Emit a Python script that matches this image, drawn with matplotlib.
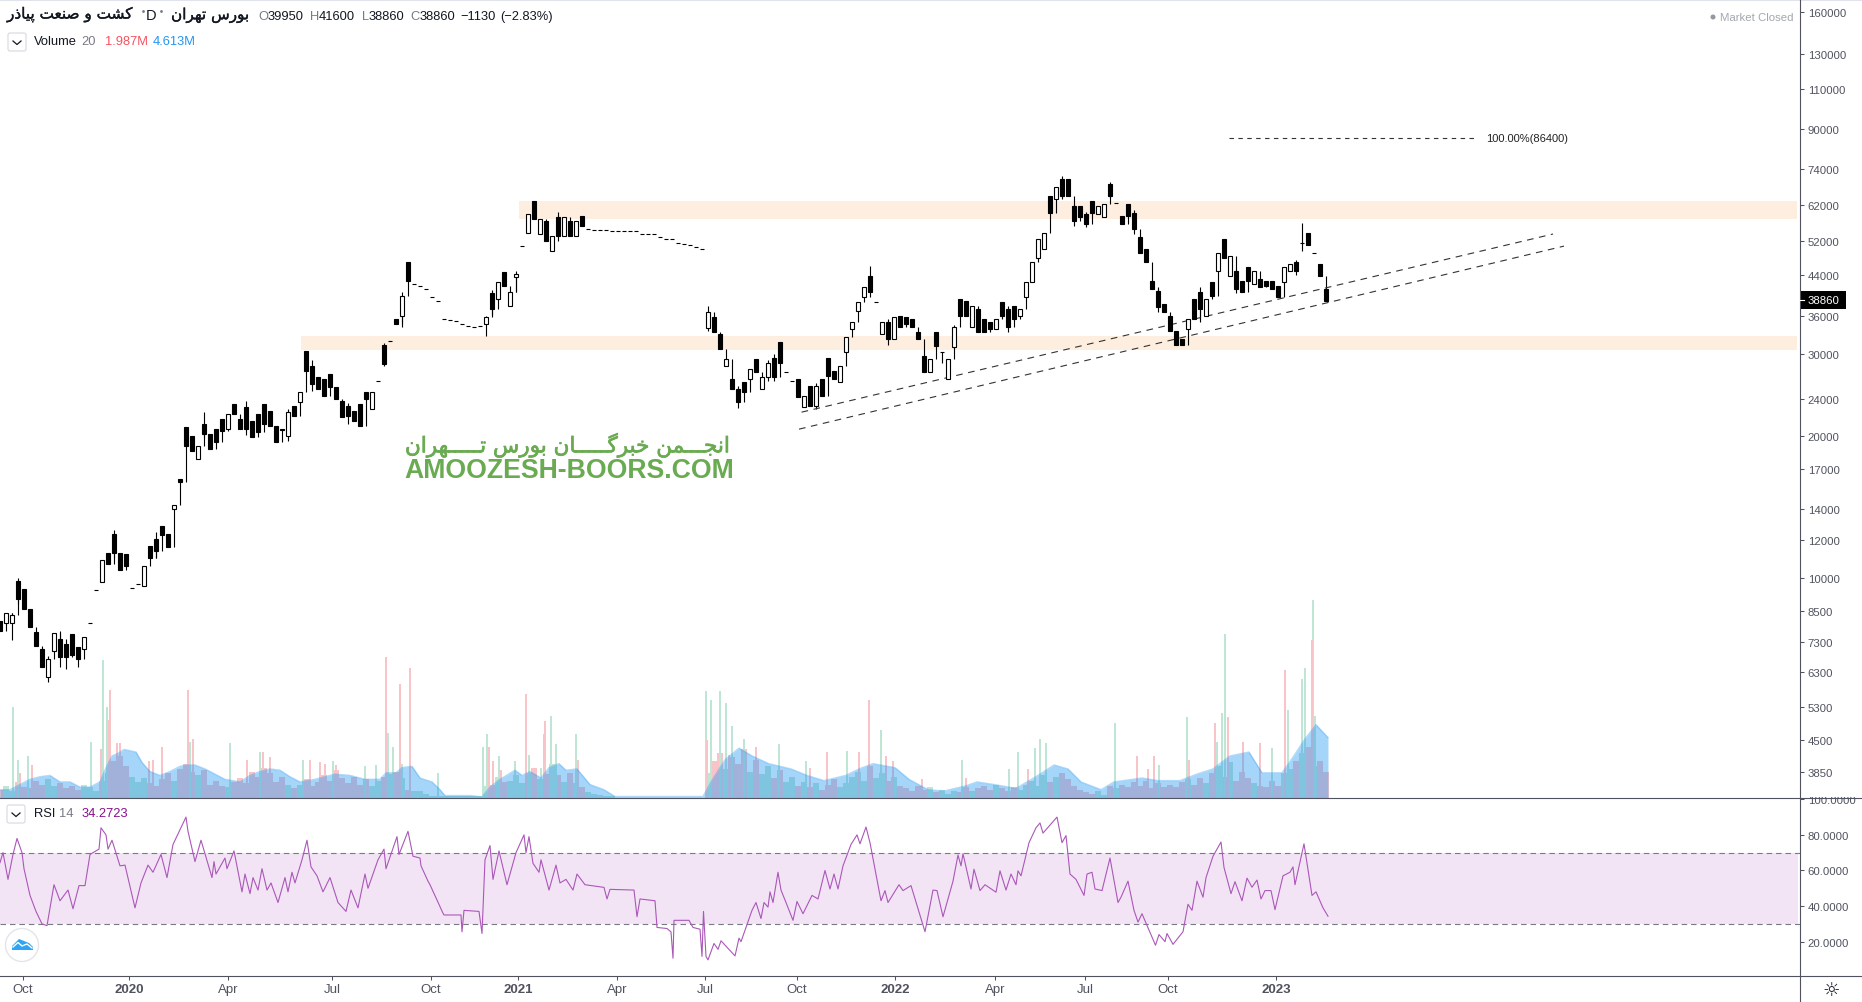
import matplotlib
matplotlib.use('Agg')
import matplotlib.pyplot as plt
import matplotlib.patheffects as pe
from matplotlib.patches import Circle, FancyBboxPatch, Polygon, Rectangle
import numpy as np

# Data. One candle per step of 6 axis units.
step = 6
opens = [8080, 8000, 8000, 9850, 9450, 8570, 7650, 7050, 6140, 6970,
         7400, 7220, 7580, 7120, 7050, 8000, 9400, 9770, 11300, 12400,
         11300, 11200, 9500, 9700, 9600, 11700, 12100, 12900, 12400, 14000,
         16200, 20900, 20000, 17900, 21200, 20200, 20700, 21800, 20700, 23400,
         21800, 23100, 21500, 22300, 23400, 22600, 21000, 20700, 20000, 23200,
         23700, 30300, 28200, 26800, 26500, 27100, 25400, 23800, 23200, 22600,
         23400, 24800, 22800, 26200, 31300, 31900, 35500, 36000, 47100, 42100,
         41700, 41100, 39600, 38800, 35500, 35300, 35100, 34600, 34400, 34200,
         34400, 34600, 40300, 39200, 44800, 37800, 43600, 50800, 54300, 63300,
         53900, 57400, 49600, 58600, 53300, 57400, 53300, 58900, 55200, 54900,
         54900, 54900, 54800, 54800, 54800, 54700, 54600, 54000, 54000, 53800,
         53000, 52700, 52500, 51500, 51400, 51200, 50600, 50000, 34000, 35800,
         33000, 28200, 26500, 25200, 26100, 26500, 29200, 25200, 26700, 29400,
         31700, 27400, 26200, 26500, 23100, 25600, 23200, 26500, 29400, 27500,
         26100, 30200, 33800, 36900, 39600, 43900, 38600, 33000, 35000, 32200,
         36000, 35900, 35500, 33300, 29600, 27400, 33300, 30200, 26500, 31000,
         39200, 38800, 34200, 37300, 35500, 35000, 33800, 38600, 37300, 37900,
         36000, 39600, 42600, 48000, 50000, 64800, 63900, 70500, 70500, 61800,
         61800, 59400, 63300, 59400, 58600, 68800, 62900, 58900, 62400, 59900,
         53000, 50000, 42800, 40700, 38200, 36000, 33500, 32200, 33800, 39200,
         40500, 36000, 42600, 44900, 52500, 43800, 44900, 42800, 45800, 42100,
         43200, 42800, 42800, 41700, 42600, 44900, 47000, 51700, 54300, 49200,
         46500, 41100]
closes = [7700, 8400, 8320, 9000, 8570, 7850, 7150, 6450, 6710, 7600,
          6780, 6780, 6840, 6710, 7470, 8000, 9400, 10900, 10700, 11300,
          10400, 10600, 9500, 9700, 10600, 11000, 11400, 12300, 11600, 14300,
          16000, 19100, 18600, 19100, 20200, 18800, 19400, 20500, 22300, 22300,
          20700, 20700, 19900, 20400, 21200, 21000, 19400, 20600, 22500, 22100,
          24800, 27500, 25800, 25200, 24300, 25400, 24000, 22000, 22100, 21500,
          21000, 24000, 24800, 26200, 28500, 31900, 34600, 39800, 42800, 42100,
          41700, 41100, 39600, 38800, 35500, 35300, 35100, 34600, 34400, 34200,
          34400, 35900, 37300, 42600, 41700, 40500, 44400, 50800, 59400, 58000,
          58000, 52000, 53300, 53300, 58600, 53300, 57400, 56000, 55200, 54900,
          54900, 54900, 54800, 54800, 54800, 54700, 54600, 54000, 54000, 53800,
          53000, 52700, 52500, 51500, 51400, 51200, 50600, 50000, 36800, 33300,
          30700, 29200, 25200, 23700, 24800, 27800, 27400, 26700, 28700, 26700,
          28700, 27400, 26200, 24200, 24300, 23200, 25600, 24300, 26900, 26500,
          28200, 32500, 35000, 38600, 41500, 40500, 38600, 35000, 32200, 35900,
          34200, 34600, 34200, 32200, 27400, 29200, 31100, 30200, 29200, 34200,
          36000, 36000, 37900, 33300, 33300, 33800, 35500, 36000, 34200, 35500,
          37300, 42600, 47000, 52500, 54300, 59900, 68000, 64800, 64800, 57400,
          58600, 56700, 59900, 61800, 62400, 64800, 62900, 56700, 58900, 55200,
          49200, 46900, 41100, 37600, 36700, 33500, 31300, 31300, 35500, 35500,
          37300, 39200, 39800, 49200, 48000, 48300, 41100, 40500, 42800, 44900,
          41500, 41700, 41100, 39600, 45800, 46500, 44900, 51700, 51200, 49200,
          43900, 38860]

# Only the wicks long enough to see
wick_sessions = [12, 18, 48, 60, 66, 78, 114, 156, 204, 246, 288, 312, 348, 384, 402,
                 486, 492, 516, 558, 708, 738, 768, 774, 816, 870, 888, 942, 954, 1008,
                 1062, 1074, 1086, 1110, 1134, 1158, 1200, 1236, 1296, 1302]
wick_highs = [8400, 10000, 6800, 7700, 7400, 7100, 12600, 12500, 22500, 23800, 22800, 29000, 23500, 31600, 40500,
              36000, 41000, 45000, 60000, 37900, 25600, 29000, 30000, 26000, 46000, 35500, 30200, 34500, 37800,
              71500, 62500, 60000, 69500, 60500, 41500, 41500, 45500, 47500, 57000]
wick_lows = [7350, 8800, 6000, 6450, 6400, 6450, 11000, 11000, 19800, 20100, 19500, 25000, 21200, 28200, 34200,
             32700, 36200, 40500, 52000, 33500, 23000, 26200, 26200, 22800, 39500, 31300, 28700, 30600, 33400,
             64000, 56200, 55800, 64200, 54000, 36800, 35000, 40300, 44000, 49500]

# Volume in millions, a low bar per candle plus the thin tall spikes
volume = [.6, .9, .5, 1.2, .8, .7, 1.3, 1.0, 1.4, .9,
          1.1, .7, .9, .6, 1.0, .8, .5, 1.3, 1.9, 2.8,
          3.2, 2.4, 1.6, 1.2, 1.5, 1.1, .9, 1.4, 1.9, 1.3,
          2.2, 2.6, 2.0, 1.7, 2.1, 1.0, 1.3, .9, .8, 1.2,
          1.5, 1.1, 2.0, 1.6, 2.3, 1.9, 1.2, 1.6, 1.0, .7,
          1.0, 1.4, .9, 1.2, 1.7, 1.3, 2.1, 1.5, 1.1, 1.6,
          1.0, 1.4, .9, 1.3, 1.6, 1.8, 2.0, 1.5, .6, .5,
          .5, .3, .1, .1, .1, .1, .1, .1, .1, .1,
          .1, .9, 1.0, 1.6, 1.2, 1.3, 1.7, 1.1, 1.9, 2.3,
          1.4, 1.8, 2.6, 1.7, 1.2, 1.9, 1.1, .8, .4, .3,
          .2, .1, .1, 0, 0, 0, 0, 0, 0, 0,
          0, 0, 0, 0, 0, 0, 0, 0,
          1.9, 2.8, 3.4, 2.2, 3.1, 2.6, 3.7, 2.0, 2.9, 1.8,
          2.4, 1.5, 2.1, 1.2, 1.6, .9, 1.2, .8, 1.1, .6,
          1.0, 1.4, .8, 1.1, 1.6, 2.0, 1.3, 2.4, 1.5, 1.9,
          1.3, 1.6, .9, .7, .5, .9, .6, .8, .4, .6,
          .3, .5, .4, .8, .5, .7, .9, .6, 1.0, .7,
          .5, .8, .6, 1.0, 1.3, .9, 1.7, 1.2, 1.6, 1.9,
          1.4, .9, .6, .4, .3, .5, .2, .9, .7, 1.0,
          .8, 1.2, .9, 1.3, .7, 1.1, .8, 1.0, .8, 1.2,
          1.4, 1.0, 1.5, 1.1, 1.9, 2.4, 1.6, 2.7, 1.3, 2.0,
          1.5, 1.1, .9, .8, 1.3, .9, 1.9, 2.2, 2.8, 3.4,
          3.9, 2.4, 2.8, 2.0]
green_sessions = [13, 18, 28, 91, 103, 107, 190, 230, 260, 303, 333, 365, 376, 388, 393, 402, 438, 483,
                  487, 499, 515, 529, 541, 551, 556, 576, 706, 711, 720, 726, 732, 744, 779, 806, 847, 881,
                  962, 1009, 1018, 1035, 1040, 1046, 1115, 1159, 1187, 1217, 1222, 1225, 1272, 1288, 1302,
                  1305, 1313, 1315]
green_volume = [7.0, 2.9, 3.2, 4.3, 10.6, 7.0, 4.3, 4.2, 3.5, 2.9, 2.8, 2.4, 2.5, 5.0, 3.9, 2.6, 1.9, 3.9,
                4.9, 3.2, 2.8, 3.3, 2.3, 6.3, 4.1, 4.9, 8.2, 7.5, 8.2, 7.3, 5.5, 4.5, 4.1, 2.8, 3.6, 5.2,
                2.9, 2.2, 3.5, 3.8, 4.5, 4.2, 5.7, 2.5, 6.2, 4.3, 6.5, 12.6, 3.8, 6.7, 9.1,
                10.0, 15.2, 6.3]
red_sessions = [20, 32, 101, 108.5, 110, 117, 120, 149, 153, 162, 188, 193, 247, 263, 270, 310, 320, 325,
                336, 386, 400, 410, 489, 493, 501, 526, 544, 545, 578, 707, 716, 729, 756, 810, 827, 859,
                869, 886, 893, 922, 966, 1028, 1137, 1148, 1154, 1189, 1215, 1228, 1243, 1260, 1285, 1312, 1328]
red_volume = [1.9, 2.5, 3.7, 6.0, 8.3, 4.2, 4.2, 2.8, 2.9, 3.9, 8.3, 4.5, 2.9, 3.5, 3.1, 2.9, 2.7, 2.6,
              2.5, 10.8, 8.7, 10.0, 3.9, 2.8, 2.1, 8.0, 4.9, 5.9, 2.9, 4.4, 2.2, 3.3, 3.9, 2.3, 3.5, 3.5,
              7.5, 3.2, 2.8, 1.4, 1.5, 2.2, 3.2, 2.2, 3.2, 2.9, 5.7, 6.2, 4.3, 4.2, 9.8, 12.1, 1.9]
ma_sessions = [0, 10, 20, 30, 40, 50, 60, 70, 80, 90, 100, 106, 112, 118, 124, 136, 142, 150, 160, 170,
               180, 186, 195, 205, 215, 225, 240, 250, 260, 270, 280, 290, 300, 315, 335, 350, 365, 380, 386, 396,
               402, 412, 420, 432, 440, 445, 470, 482, 490, 500, 515, 522, 530, 541, 549, 559, 566, 577, 590, 604,
               615, 703, 711, 725, 739, 752, 769, 791, 807, 824, 846, 859, 873, 895, 909, 928, 944, 966, 977, 994,
               1016, 1038, 1054, 1068, 1081, 1101, 1114, 1142, 1158, 1180, 1197, 1213, 1230, 1249, 1262, 1282, 1293,
               1304, 1316, 1328]
ma_volume = [.6, .6, 1.0, 1.4, 1.6, 1.7, 1.2, 1.2, .8, .8, 1.2, 2.3, 3.2, 3.4, 3.7, 3.5, 2.7, 2.0, 1.7, 2.0,
             2.4, 2.5, 2.5, 2.2, 1.8, 1.4, 1.2, 1.7, 2.0, 2.2, 2.1, 1.6, 1.2, 1.4, 1.8, 1.7, 1.4, 1.4, 1.9, 1.9,
             2.3, 2.4, 1.5, 1.2, .6, .15, .15, .05, .8, 1.4, 2.1, 1.7, 2.0, 1.5, 2.3, 2.6, 2.1, 2.2, 1.0, .6,
             .08, .08, 1.2, 2.9, 3.8, 3.2, 2.6, 2.2, 1.7, 1.3, 1.7, 2.2, 2.6, 2.3, 1.4, .6, .5, .9, 1.2, 1.0,
             .7, 1.7, 2.5, 2.2, 1.2, .6, 1.2, 1.5, 1.3, 1.3, 1.8, 2.2, 3.2, 3.5, 1.9, 1.9, 3.1,
             4.4, 5.6, 4.613]

rsi_sessions = sorted([0, 3, 8, 13, 17, 22, 24, 30, 36, 42, 47, 54, 60, 68, 73, 79, 85, 90, 101, 99,
                       106, 108, 112, 120, 125, 135, 141, 148, 153, 161, 167, 173, 186, 188, 195, 201, 212, 214, 216, 225,
                       227, 234, 242, 245, 250, 253, 258, 262, 267, 271, 278, 285, 288, 292, 295, 302, 307, 311, 317, 323,
                       330, 338, 346, 351, 358, 365, 368, 378, 384, 386, 397, 399, 408, 413, 420, 421, 428, 430, 443, 444,
                       461, 462, 464, 479, 482, 485, 490, 493, 499])
rsi_values = [64.4, 70, 55, 69, 78, 70, 61, 46, 37, 30, 29, 52, 43, 49, 38.5, 51.5, 51.5, 69, 72, 84,
              80, 72, 77, 62.6, 63, 39, 53, 63, 59, 69, 56, 74.6, 90, 82, 65, 77, 56, 65, 58, 67,
              61, 71, 48, 58, 47, 56, 49, 61, 49, 53, 42, 56, 48, 59, 53, 66, 77, 62, 57, 48,
              56, 42, 37, 49, 39, 58, 50, 66, 72, 61, 79, 69, 82, 68, 67, 62.6, 54, 52, 36, 35,
              35, 25.5, 37.6, 37, 24.6, 66, 74, 55, 71]
rsi_sessions2 = [507, 516, 524, 526, 529, 533, 539, 541, 549, 556, 560, 566, 573, 577, 585, 604, 607, 610, 634, 637,
                 640, 655, 657, 667, 671, 673, 674, 689, 693, 700, 702, 703.5, 706, 708, 714, 718, 721, 735, 739, 741,
                 752, 756, 761, 764, 768, 770, 773, 778, 781, 786, 793, 797, 803, 812, 818, 825, 830, 834, 838, 843,
                 851, 857, 860, 866, 870, 881, 885, 888, 899, 903, 911, 925, 933, 937, 943, 953, 958, 961, 963, 971,
                 974, 980, 985, 996, 1000, 1006, 1011, 1016, 1018, 1021, 1029, 1036, 1040, 1043, 1057, 1062, 1066, 1070,
                 1076, 1084, 1087, 1092, 1095, 1102, 1110, 1118, 1121, 1128, 1134, 1138, 1142, 1155.5, 1159, 1165, 1167, 1173,
                 1183, 1188, 1192, 1197, 1203, 1206, 1213, 1221, 1224, 1231, 1235, 1242, 1247, 1252, 1257, 1261, 1265, 1271,
                 1275, 1283, 1290, 1293, 1295, 1304, 1312, 1316, 1323, 1328]
rsi_values2 = [52, 70, 80, 70, 79, 64, 59, 66, 49, 63, 53, 55, 49, 58, 52, 50.5, 44, 49.4, 49, 34,
               44, 43, 28, 27.4, 25.5, 10.7, 32, 32, 28, 27, 11.7, 37, 11.7, 9.8, 19, 15.7, 20.5, 12, 22, 20,
               37.6, 42, 33, 42, 39.4, 48, 42, 59, 49, 42, 32, 42.6, 35.7, 46, 44, 60, 49.6, 58, 49.6, 62.6,
               74.6, 80, 75, 84.4, 75.6, 43, 48.7, 42, 52, 48.7, 51.5, 25.6, 49, 48.7, 34, 54, 68.7, 62.6, 69.4, 49.6,
               60.7, 48.7, 52, 47.8, 59.8, 49, 58, 52, 59.8, 57, 75.6, 84, 86.7, 81, 90, 75.6, 79.6, 58,
               55, 46, 58, 59, 49.6, 48.7, 67, 42, 45, 54, 37.6, 31, 35.7, 18, 24, 20, 24.6, 18.5,
               25.6, 41, 37.6, 54, 45, 56, 68, 76, 61.7, 47, 53.7, 43, 55.7, 50.6, 54.6, 44, 48.7, 48.7,
               38, 57, 59, 62, 52, 75, 46, 48, 39, 34.27]

price_ticks = [160000, 130000, 110000, 90000, 74000, 62000, 52000, 44000, 36000, 30000, 24000, 20000,
               17000, 14000, 12000, 10000, 8500, 7300, 6300, 5300, 4500, 3850]
rsi_ticks = [20, 40, 60, 80, 100]
time_ticks = [23, 129, 228, 332, 431, 518, 617, 705, 797, 895.5, 995, 1085, 1168, 1276]
time_labels = ['Oct', '2020', 'Apr', 'Jul', 'Oct', '2021', 'Apr', 'Jul', 'Oct', '2022', 'Apr', 'Jul', 'Oct', '2023']

zones = [(519, 63400, 58100), (300.7, 32700, 30500)]
trend_lines = [((801.6, 22500), (1553, 53900)), ((799, 20700), (1564, 50800))]

UI = '#50535e'
GREEN_BAR = '#bfe5d5'
RED_BAR = '#f8c4c8'
FONT = 'Liberation Sans'

# Matplotlib has no Arabic shaping, so join the letters here
FORMS = {'ا': (0xFE8D, 0xFE8E), 'ب': (0xFE8F, 0xFE90, 0xFE91, 0xFE92), 'پ': (0xFB56, 0xFB57, 0xFB58, 0xFB59),
         'ت': (0xFE95, 0xFE96, 0xFE97, 0xFE98), 'ج': (0xFE9D, 0xFE9E, 0xFE9F, 0xFEA0),
         'خ': (0xFEA5, 0xFEA6, 0xFEA7, 0xFEA8), 'ذ': (0xFEAB, 0xFEAC), 'ر': (0xFEAD, 0xFEAE),
         'س': (0xFEB1, 0xFEB2, 0xFEB3, 0xFEB4), 'ش': (0xFEB5, 0xFEB6, 0xFEB7, 0xFEB8),
         'ص': (0xFEB9, 0xFEBA, 0xFEBB, 0xFEBC), 'ع': (0xFEC9, 0xFECA, 0xFECB, 0xFECC),
         'ک': (0xFB8E, 0xFB8F, 0xFB90, 0xFB91), 'گ': (0xFB92, 0xFB93, 0xFB94, 0xFB95),
         'م': (0xFEE1, 0xFEE2, 0xFEE3, 0xFEE4), 'ن': (0xFEE5, 0xFEE6, 0xFEE7, 0xFEE8),
         'ه': (0xFEE9, 0xFEEA, 0xFEEB, 0xFEEC), 'و': (0xFEED, 0xFEEE), 'ی': (0xFBFC, 0xFBFD, 0xFBFE, 0xFBFF)}


def shape(text):
    out = []
    for i, ch in enumerate(text):
        if ch not in FORMS:
            out.append(ch)
            continue
        prev = text[i - 1] if i > 0 else ' '
        nxt = text[i + 1] if i + 1 < len(text) else ' '
        joins_prev = prev == 'ـ' or (prev in FORMS and len(FORMS[prev]) == 4)
        joins_next = nxt == 'ـ' or nxt in FORMS
        forms = FORMS[ch]
        if len(forms) == 2:
            out.append(chr(forms[1] if joins_prev else forms[0]))
        elif joins_prev and joins_next:
            out.append(chr(forms[3]))
        elif joins_next:
            out.append(chr(forms[2]))
        elif joins_prev:
            out.append(chr(forms[1]))
        else:
            out.append(chr(forms[0]))
    return ''.join(reversed(out))


W, H = 1862, 1003
AXIS_X = 1799.5
fig = plt.figure(figsize=(W / 100, H / 100), dpi=100, facecolor='white')


def pane(top, bottom):
    return fig.add_axes([0, 1 - bottom / H, AXIS_X / W, (bottom - top) / H])


sessions = np.arange(len(closes)) * step
opens_a = np.array(opens, dtype=float)
closes_a = np.array(closes, dtype=float)

# Volume sits behind the candles
ax_vol = pane(2, 798.5)
ax_vol.set_xlim(0, AXIS_X)
ax_vol.set_ylim(0, 61.3)
ax_vol.axis('off')
up = closes_a >= opens_a
ax_vol.bar(sessions[up], np.array(volume)[up], width=5.2, color=GREEN_BAR, linewidth=0)
ax_vol.bar(sessions[~up], np.array(volume)[~up], width=5.2, color=RED_BAR, linewidth=0)
ax_vol.bar(green_sessions, green_volume, width=1.7, color=GREEN_BAR, linewidth=0)
ax_vol.bar(red_sessions, red_volume, width=1.7, color=RED_BAR, linewidth=0)
ax_vol.fill_between(ma_sessions, ma_volume, color='#2196f3', alpha=0.4, linewidth=0)
ax_vol.plot(ma_sessions, ma_volume, color='#2196f3', alpha=0.35, linewidth=1)

# Price pane
ax = pane(2, 798.5)
ax.patch.set_alpha(0)
ax.set_yscale('log')
ax.set_xlim(0, AXIS_X)
ax.set_ylim(3400, 169000)
for left, high, low in zones:
    ax.add_patch(Rectangle((left, low), 1797.5 - left, high - low, color='#fdeee0', linewidth=0, zorder=1))

ax.vlines(wick_sessions, wick_lows, wick_highs, color='black', linewidth=0.8, zorder=2)

# Thin stems from the previous close keep the candles joined up, as they are on the dense daily chart
traded = opens_a != closes_a
joined = traded[1:] & traded[:-1]
ax.vlines(sessions[1:][joined], np.minimum(closes_a[:-1], opens_a[1:])[joined],
          np.maximum(closes_a[:-1], opens_a[1:])[joined], color='black', linewidth=0.8, zorder=2)

tops = np.maximum(opens_a, closes_a)
bottoms = np.minimum(opens_a, closes_a)
widths = [3.2 if c > o else 4.6 for o, c in zip(opens, closes)]
ax.bar(sessions, tops - bottoms, bottom=bottoms, width=widths,
       color=['white' if c > o else 'black' for o, c in zip(opens, closes)],
       edgecolor='black', linewidth=0.8, zorder=3)

for (x0, p0), (x1, p1) in trend_lines:
    ax.plot([x0, x1], [p0, p1], color='#333333', linewidth=0.8, dashes=(6, 5), zorder=2.5)
ax.plot([1229, 1476], [86400, 86400], color='#333333', linewidth=0.8, dashes=(4, 4))
ax.text(1486, 86400, '100.00%(86400)', family=FONT, fontsize=8, color='#222222', va='center')

ax.set_xticks([])
ax.set_yticks(price_ticks)
ax.set_yticklabels([str(t) for t in price_ticks])
ax.minorticks_off()
ax.yaxis.tick_right()
ax.tick_params(axis='y', length=3, width=0.75, color=UI, labelcolor=UI, labelsize=8.2, pad=3)
for lab in ax.get_yticklabels():
    lab.set_family(FONT)
for s in ax.spines.values():
    s.set_visible(False)

# RSI pane
ax_rsi = pane(798.5, 976.5)
ax_rsi.set_xlim(0, AXIS_X)
ax_rsi.set_ylim(1, 101)
ax_rsi.axhspan(30, 70, xmax=1797.5 / AXIS_X, color='#9c27b0', alpha=0.12, linewidth=0)
ax_rsi.axhline(70, color='#787b86', linewidth=0.8, dashes=(5, 3.5))
ax_rsi.axhline(30, color='#787b86', linewidth=0.8, dashes=(5, 3.5))
ax_rsi.plot(rsi_sessions + rsi_sessions2, rsi_values + rsi_values2, color='#ab57b9', linewidth=0.8)
ax_rsi.yaxis.tick_right()
ax_rsi.set_yticks(rsi_ticks)
ax_rsi.set_yticklabels(['%.4f' % t for t in rsi_ticks], family=FONT)
ax_rsi.tick_params(axis='y', length=3, width=0.75, color=UI, labelcolor=UI, labelsize=8.2, pad=3)
ax_rsi.set_xticks(time_ticks)
ax_rsi.set_xticklabels(time_labels, family=FONT)
ax_rsi.tick_params(axis='x', length=3, width=0.75, color=UI, labelcolor=UI, labelsize=9.5, pad=2.5)
for lab, name in zip(ax_rsi.get_xticklabels(), time_labels):
    if name.isdigit():
        lab.set_fontweight('bold')
for s in ax_rsi.spines.values():
    s.set_visible(False)

# Header, scale frame and buttons, placed in image pixels
ui = fig.add_axes([0, 0, 1, 1])
ui.set_xlim(0, W)
ui.set_ylim(H, 0)
ui.axis('off')
ui.patch.set_alpha(0)
ui.add_patch(Rectangle((0, 0), W, 1.5, color='#e0e3eb', linewidth=0))
ui.add_patch(Rectangle((AXIS_X + 2, 788), 60, 10, color='white', linewidth=0))
ui.plot([0, W], [798.5, 798.5], color=UI, linewidth=0.8)
ui.plot([0, W], [976.5, 976.5], color=UI, linewidth=0.8)
ui.plot([AXIS_X, AXIS_X], [0, H], color=UI, linewidth=0.8)


def label(x, y, s, color='#131722', size=9.3, **kw):
    kw.setdefault('family', FONT)
    return ui.text(x, y, s, color=color, fontsize=size, va='center', ha=kw.pop('ha', 'left'), **kw)


ink = [pe.withStroke(linewidth=0.25, foreground='#131722')]
label(7, 16, shape('کشت و صنعت پیاذر'), family='DejaVu Sans', size=11).set_path_effects(ink)
ui.plot(143, 12, '.', color='#787b86', markersize=2)
label(146, 16, 'D', size=10.5)
ui.plot(161, 12, '.', color='#787b86', markersize=2)
label(171, 16, shape('بورس تهران'), family='DejaVu Sans', size=11).set_path_effects(ink)
for x, letter, xv, value in [(258, 'O', 268, '39950'), (310, 'H', 319, '41600'),
                             (362, 'L', 369, '38860'), (410, 'C', 420, '38860')]:
    label(x, 17, letter, color='#787b86')
    label(xv, 17, value)
label(460, 17, '−1130')
label(500, 17, '(−2.83%)')

for x0, y0 in [(7, 33), (6, 805)]:
    ui.add_patch(FancyBboxPatch((x0 + 1, y0 + 1), 18, 18, boxstyle='round,pad=0,rounding_size=2',
                                facecolor='white', edgecolor='#d5d8e0', linewidth=0.8))
    ui.plot([x0 + 6, x0 + 10, x0 + 14], [y0 + 9, y0 + 12.5, y0 + 9], color='#131722', linewidth=0.9)
label(34, 42, 'Volume')
label(81, 42, '20', color='#787b86')
label(105, 42, '1.987M', color='#f7525f')
label(153, 42, '4.613M', color='#2196f3')
label(34, 814, 'RSI')
label(59, 814, '14', color='#787b86')
label(82, 814, '34.2723', color='#880e8f')

ui.add_patch(Circle((1713, 18), 2.5, color='#9598a1', linewidth=0))
label(1720, 18, 'Market Closed', color='#a3a6af', size=8.2)

ui.add_patch(Rectangle((AXIS_X, 292), 46.5, 18, color='black', linewidth=0))
ui.plot([AXIS_X, AXIS_X + 4], [301, 301], color='white', linewidth=0.8)
label(1808, 301, '38860', color='white', size=8.2)

ui.add_patch(Circle((22, 946), 16.5, facecolor='white', edgecolor='#e3e5ea', linewidth=1))
ui.add_patch(Polygon([(12, 951), (12, 947), (16, 943), (19, 940), (24, 942), (29, 944), (33, 948), (33, 951)],
                     closed=True, color='#2fa4f3', linewidth=0))
ui.plot([13, 18, 22, 27, 32], [948, 943.5, 947, 945, 949], color='white', linewidth=1)
ui.text(1831, 990, '☼', family='DejaVu Sans', fontsize=14, color='#131722', ha='center', va='center')

# Watermark
wm = label(405, 446, shape('انجـــمن خبرگـــــان بورس تـــــهران'), color='#6aab52', family='DejaVu Sans', size=15.5)
wm.set_path_effects([pe.withStroke(linewidth=0.5, foreground='#6aab52')])
label(404, 471, 'AMOOZESH-BOORS.COM', color='#6aab52', size=19.2, fontweight='bold')

plt.savefig('out.png', dpi=100)
